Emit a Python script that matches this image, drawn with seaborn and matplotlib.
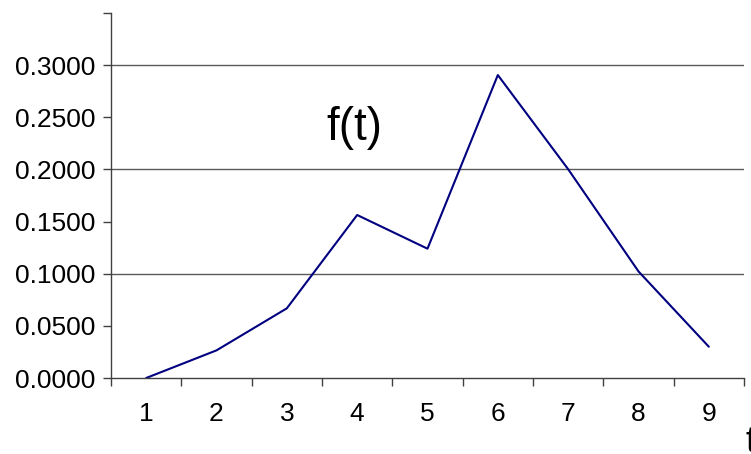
import numpy as np
import pandas as pd
import matplotlib
matplotlib.use("Agg")
import matplotlib.pyplot as plt
import seaborn as sns

# valores
t_vals = [1, 2, 3, 4, 5, 6, 7, 8, 9]
f_vals = [0.0000, 0.0265, 0.0668, 0.1563, 0.1240, 0.2905, 0.2002, 0.1022, 0.0300]
y_ticks = [0.00, 0.05, 0.10, 0.15, 0.20, 0.25, 0.30, 0.35]
y_labels = ["0.0000", "0.0500", "0.1000", "0.1500", "0.2000", "0.2500", "0.3000", ""]
grid_vals = [0.1, 0.2, 0.3]

sns.set_style("white")
plt.rcParams['font.family'] = ['Liberation Sans', 'DejaVu Sans']
plt.rcParams['text.color'] = 'black'
plt.rcParams['xtick.color'] = 'black'
plt.rcParams['ytick.color'] = 'black'

df = pd.DataFrame({'t': t_vals, 'f': f_vals})

fig = plt.figure(figsize=(7.51, 4.54), dpi=100)
ax = fig.add_axes([111 / 751, 1 - 378 / 454, 633 / 751, 365 / 454])

for g in grid_vals:
    ax.axhline(g, color='#5a5a5a', lw=1.0, zorder=0)

sns.lineplot(data=df, x='t', y='f', color='#000080', lw=1.5, ax=ax)

ax.set_xlim(0.5, 9.5)
ax.set_ylim(0, 0.35)
ax.set_yticks(y_ticks)
ax.set_yticklabels(y_labels, fontsize=19)

# marcas entre as categorias, rótulos no centro
ax.set_xticks(np.arange(0.5, 10, 1.0))
ax.set_xticklabels([])
ax.set_xticks(t_vals, minor=True)
ax.set_xticklabels([str(t) for t in t_vals], minor=True, fontsize=19)
ax.tick_params(axis='x', which='major', bottom=True, direction='out', length=6, width=1, color='#404040')
ax.tick_params(axis='x', which='minor', bottom=True, length=0, pad=17)
ax.tick_params(axis='y', left=True, direction='out', length=6, width=1, color='#404040', pad=5)

for s in ['top', 'right']:
    ax.spines[s].set_visible(False)
for s in ['left', 'bottom']:
    ax.spines[s].set_color('#404040')
    ax.spines[s].set_linewidth(1.0)

ax.set_xlabel('')
ax.set_ylabel('')
ax.text(3.96, 0.24, 'f(t)', fontsize=33, ha='center', va='center')
fig.text(745 / 751, 1 - 452 / 454, 't', fontsize=26, ha='left', va='baseline')

fig.savefig('out.png', dpi=100)
